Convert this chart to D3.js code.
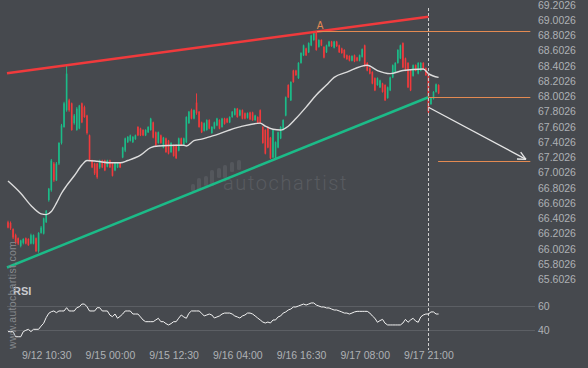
<!DOCTYPE html>
<html>
<head>
<meta charset="utf-8">
<script src="https://cdn.jsdelivr.net/npm/d3@7"></script>
<style>
  html, body { margin: 0; padding: 0; background: #46494e; }
  svg { display: block; }
</style>
</head>
<body>
<div id="chart"></div>
<script>
// candles, one row per 30 min bar: [open, high, low, close]
var candles = [
  [66.35,66.37,66.27,66.28],[66.34,66.36,66.25,66.27],[66.26,66.27,66.13,66.15],[66.18,66.20,66.06,66.08],[66.14,66.15,66.05,66.07],
  [66.04,66.12,66.02,66.11],[66.08,66.14,66.06,66.13],[66.14,66.15,66.06,66.07],[66.13,66.14,66.04,66.05],[66.07,66.20,66.06,66.18],
  [66.07,66.19,66.06,66.18],[66.14,66.15,65.96,65.97],[65.97,66.22,65.95,66.21],[66.21,66.30,66.20,66.28],[66.20,66.41,66.19,66.40],
  [66.35,66.51,66.34,66.50],[66.64,66.80,66.62,66.79],[66.77,67.18,66.75,67.16],[67.12,67.14,66.88,66.90],[66.90,67.14,66.89,67.12],
  [67.12,67.40,67.10,67.39],[67.39,67.64,67.37,67.62],[67.60,67.93,67.59,67.91],[67.82,68.41,67.80,68.30],[67.95,67.97,67.80,67.82],
  [67.91,67.92,67.55,67.56],[67.65,67.77,67.63,67.75],[67.56,67.86,67.55,67.84],[67.58,67.89,67.57,67.88],[67.91,67.92,67.65,67.66],
  [67.86,67.88,67.72,67.73],[67.75,67.76,67.50,67.52],[67.49,67.50,67.15,67.16],[67.16,67.17,67.06,67.07],[67.12,67.13,66.97,66.99],
  [67.12,67.13,66.92,66.94],[67.07,67.17,67.05,67.16],[67.16,67.17,67.06,67.07],[67.16,67.17,67.02,67.03],[67.08,67.17,67.07,67.16],
  [67.16,67.17,67.06,67.07],[67.13,67.14,66.95,66.96],[67.03,67.14,67.02,67.13],[67.07,67.14,67.06,67.13],[67.13,67.14,67.06,67.07],
  [67.20,67.34,67.19,67.33],[67.29,67.46,67.27,67.45],[67.40,67.48,67.39,67.47],[67.42,67.50,67.41,67.49],[67.40,67.48,67.39,67.47],
  [67.44,67.50,67.43,67.49],[67.60,67.61,67.48,67.49],[67.58,67.59,67.48,67.49],[67.56,67.57,67.48,67.49],[67.49,67.57,67.48,67.56],
  [67.53,67.61,67.52,67.60],[67.56,67.72,67.55,67.71],[67.66,67.67,67.45,67.46],[67.53,67.54,67.35,67.36],[67.39,67.54,67.38,67.53],
  [67.49,67.50,67.38,67.39],[67.33,67.47,67.32,67.46],[67.45,67.46,67.26,67.27],[67.42,67.43,67.24,67.25],[67.27,67.40,67.26,67.39],
  [67.36,67.37,67.21,67.22],[67.36,67.37,67.18,67.19],[67.29,67.46,67.28,67.45],[67.45,67.46,67.35,67.36],[67.37,67.46,67.36,67.45],
  [67.40,67.74,67.39,67.73],[67.65,67.81,67.64,67.80],[67.82,67.84,67.70,67.71],[67.71,67.83,67.70,67.82],[67.92,68.04,67.76,67.78],
  [67.80,67.81,67.59,67.60],[67.66,67.67,67.52,67.53],[67.55,67.66,67.54,67.65],[67.56,67.70,67.55,67.69],[67.69,67.70,67.57,67.58],
  [67.52,67.61,67.51,67.60],[67.58,67.67,67.57,67.66],[67.62,67.72,67.61,67.71],[67.69,67.70,67.57,67.58],[67.60,67.72,67.59,67.71],
  [67.71,67.72,67.63,67.64],[67.71,67.72,67.65,67.66],[67.66,67.74,67.65,67.73],[67.73,67.81,67.72,67.80],[67.76,67.85,67.75,67.84],
  [67.84,67.85,67.72,67.73],[67.75,67.83,67.74,67.82],[67.82,67.83,67.70,67.71],[67.78,67.79,67.70,67.71],[67.72,67.79,67.71,67.78],
  [67.79,67.80,67.69,67.70],[67.79,67.80,67.68,67.69],[67.69,67.76,67.68,67.75],[67.73,67.74,67.64,67.65],[67.82,67.83,67.64,67.65],
  [67.60,67.61,67.38,67.39],[67.56,67.57,67.24,67.25],[67.60,67.61,67.32,67.33],[67.46,67.47,67.18,67.19],[67.20,67.57,67.19,67.56],
  [67.19,67.41,67.18,67.40],[67.33,67.54,67.32,67.53],[67.45,67.61,67.44,67.60],[67.56,67.70,67.55,67.69],[67.75,68.00,67.74,67.99],
  [68.15,68.16,67.98,67.99],[67.95,68.20,67.94,68.19],[68.34,68.35,68.18,68.19],[68.34,68.35,68.27,68.28],[68.24,68.45,68.23,68.44],
  [68.44,68.58,68.43,68.57],[68.54,68.68,68.53,68.67],[68.63,68.64,68.53,68.54],[68.58,68.71,68.57,68.70],[68.67,68.81,68.66,68.80],
  [68.74,68.86,68.73,68.84],[68.84,68.86,68.60,68.61],[68.65,68.75,68.64,68.74],[68.74,68.75,68.66,68.67],[68.65,68.66,68.50,68.51],
  [68.58,68.68,68.57,68.67],[68.66,68.73,68.65,68.72],[68.72,68.73,68.65,68.66],[68.64,68.73,68.63,68.72],[68.72,68.73,68.65,68.66],
  [68.67,68.68,68.57,68.58],[68.63,68.64,68.56,68.57],[68.61,68.62,68.50,68.51],[68.54,68.55,68.48,68.49],[68.53,68.54,68.46,68.47],
  [68.47,68.54,68.46,68.53],[68.54,68.55,68.45,68.46],[68.51,68.52,68.46,68.47],[68.47,68.55,68.46,68.54],[68.52,68.63,68.51,68.62],
  [68.67,68.68,68.39,68.40],[68.44,68.45,68.33,68.34],[68.37,68.38,68.29,68.30],[68.32,68.33,68.16,68.17],[68.24,68.25,68.07,68.08],
  [68.15,68.25,68.14,68.24],[68.12,68.22,68.11,68.21],[68.17,68.18,68.05,68.06],[68.15,68.16,67.94,67.95],[67.98,68.13,67.97,68.12],
  [68.08,68.26,68.07,68.25],[68.25,68.42,68.24,68.41],[68.32,68.45,68.31,68.44],[68.44,68.62,68.43,68.61],[68.50,68.68,68.49,68.67],
  [68.70,68.71,68.37,68.38],[68.50,68.51,68.33,68.34],[68.44,68.45,68.11,68.12],[68.34,68.35,68.07,68.08],[68.27,68.42,68.26,68.41],
  [68.41,68.42,68.33,68.34],[68.30,68.45,68.29,68.44],[68.34,68.45,68.33,68.44],[68.44,68.45,68.36,68.37],[68.37,68.38,68.27,68.28],
  [68.30,68.31,67.78,67.80],[67.90,67.99,67.89,67.98],[67.97,68.07,67.96,68.06],[68.06,68.17,68.05,68.16],[68.15,68.16,68.03,68.04]
];

// RSI, one value per bar
var rsi = [
  38.9,38.9,38.9,34.7,34.7,34.7,38.9,40.0,40.8,38.9,
  40.8,40.8,40.8,43.5,45.8,50.5,54.0,55.3,55.9,54.5,
  55.9,55.9,55.9,58.6,55.9,55.9,55.9,58.6,59.4,61.6,
  61.6,59.4,55.9,55.9,55.9,58.6,58.6,55.9,55.9,55.9,
  52.5,51.2,53.4,49.9,51.5,53.4,55.9,55.9,55.9,53.4,
  53.4,53.4,51.0,48.5,47.1,47.1,47.1,47.1,48.5,49.9,
  47.1,47.1,45.5,44.4,45.5,47.1,47.1,50.0,52.6,51.0,
  49.9,54.0,55.9,55.9,55.9,55.9,54.0,51.8,52.6,53.4,
  52.6,50.1,51.0,51.8,53.4,54.2,54.2,54.2,53.4,51.8,
  51.0,50.1,51.8,52.6,54.2,54.2,53.4,51.8,50.1,48.5,
  46.8,46.0,46.8,46.0,48.5,48.5,51.0,51.8,54.2,55.1,
  56.7,57.5,59.2,59.2,60.0,60.8,61.6,60.8,61.6,62.5,
  62.5,60.8,60.0,59.2,59.2,58.4,58.4,57.5,56.7,56.7,
  55.9,55.1,54.2,54.2,53.4,54.2,55.1,55.6,55.6,55.6,
  55.6,55.6,54.2,51.8,49.9,46.6,48.0,49.0,45.8,44.4,
  44.4,44.4,44.4,44.4,44.4,46.0,49.0,46.6,48.5,49.9,
  47.6,46.6,51.0,52.6,53.4,53.4,55.1,55.1,53.4,53.4
];

// moving average read at these bars
var maIdx = [0,5,9,13,15,17,19,21,23,26,29,31,35,40,44,47,52,56,59,66,69,70,73,76,80,82,87,92,99,101,104,107,110,113,117,121,125,128,133,141,145,150,155,163,165,169];
var maVal = [66.89,66.73,66.57,66.46,66.45,66.49,66.60,66.73,66.83,66.96,67.10,67.16,67.15,67.13,67.13,67.16,67.23,67.33,67.35,67.36,67.36,67.35,67.42,67.44,67.48,67.50,67.56,67.61,67.65,67.61,67.57,67.56,67.61,67.71,67.86,68.02,68.15,68.25,68.32,68.41,68.34,68.30,68.34,68.36,68.30,68.25];

var timeIdx = [15, 40, 65, 90, 115, 140, 165];
var timeLabels = ['9/12 10:30', '9/15 00:00', '9/15 12:30', '9/16 04:00', '9/16 16:30', '9/17 08:00', '9/17 21:00'];
var priceTicks = [65.6026,65.8026,66.0026,66.2026,66.4026,66.6026,66.8026,67.0026,67.2026,67.4026,
                  67.6026,67.8026,68.0026,68.2026,68.4026,68.6026,68.8026,69.0026,69.2026];
var rsiTicks = [40, 60];

// pattern: channel lines, levels, forecast (bar index, price)
var channelTop = [[-0.4, 68.305], [165, 69.047]];
var channelBottom = [[-0.4, 65.756], [165, 67.99]];
var levelPrice = [68.853, 67.99, 67.149];
var levelFrom = [121.3, 165, 168.8];
var levelTo = 205;
var forecast = [[165, 67.858], [203.3, 67.175]];
var lastBar = 165;

var width = 588, height = 368;
var red = '#f03a3c', green = '#1cbb88', orange = '#e38a52';
var font = '"Liberation Sans", Arial, sans-serif';

var svg = d3.select('#chart').append('svg')
    .attr('width', width)
    .attr('height', height);

svg.append('rect').attr('width', width).attr('height', height).attr('fill', '#46494e');

var x = d3.scaleLinear().domain([0, candles.length - 1]).range([8, 438.6]);
var y = d3.scaleLinear().domain([65.6026, 69.2026]).range([279.2, 4.8]);
var yr = d3.scaleLinear().domain([40, 60]).range([330.3, 306]);

// watermark logo
var logo = svg.append('g').attr('fill', '#54575c');
[[191,184,191],[197,178,190],[204,176,186],[210,170,186],[217,168,178],[223,165,178],[230,162,172],[237,160,170]]
  .forEach(function(b) {
    logo.append('rect').attr('x', b[0]).attr('y', b[1]).attr('width', 4).attr('height', b[2] - b[1]).attr('rx', 1.5);
  });
logo.append('text').attr('x', 223).attr('y', 190)
    .style('font', '300 20px Roboto, sans-serif').style('letter-spacing', '1.6px')
    .attr('fill', '#585b60').text('autochartist');

// RSI grid
svg.append('g').selectAll('line').data(rsiTicks).enter().append('line')
    .attr('x1', 7).attr('x2', 535)
    .attr('y1', function(d) { return Math.round(yr(d)) + 0.5; })
    .attr('y2', function(d) { return Math.round(yr(d)) + 0.5; })
    .attr('stroke', '#5c5f64').attr('stroke-width', 1);

// candles
var bars = svg.append('g');
candles.forEach(function(c, i) {
  var col = c[3] >= c[0] ? green : red;
  var cx = x(i);
  bars.append('line')
      .attr('x1', cx).attr('x2', cx)
      .attr('y1', y(c[1])).attr('y2', y(c[2]))
      .attr('stroke', col).attr('stroke-width', 1);
  var top = y(Math.max(c[0], c[3])), bot = y(Math.min(c[0], c[3]));
  bars.append('rect')
      .attr('x', cx - 0.8).attr('width', 1.6)
      .attr('y', top).attr('height', Math.max(1, bot - top))
      .attr('fill', col);
});

// moving average
var maLine = d3.line()
    .x(function(d) { return x(d[0]); })
    .y(function(d) { return y(d[1]); })
    .curve(d3.curveMonotoneX);
svg.append('path')
    .datum(maIdx.map(function(d, i) { return [d, maVal[i]]; }))
    .attr('d', maLine)
    .attr('fill', 'none').attr('stroke', '#dcdcdc').attr('stroke-width', 1.4);

// channel
var pLine = d3.line().x(function(d) { return x(d[0]); }).y(function(d) { return y(d[1]); });
svg.append('path').datum(channelTop).attr('d', pLine)
    .attr('stroke', red).attr('stroke-width', 2.5).attr('fill', 'none');
svg.append('path').datum(channelBottom).attr('d', pLine)
    .attr('stroke', green).attr('stroke-width', 2.5).attr('fill', 'none');

// levels
levelPrice.forEach(function(p, i) {
  svg.append('line')
      .attr('x1', x(levelFrom[i])).attr('x2', x(levelTo))
      .attr('y1', Math.round(y(p)) + 0.5).attr('y2', Math.round(y(p)) + 0.5)
      .attr('stroke', orange).attr('stroke-width', 1);
});
svg.append('text')
    .attr('x', x(levelFrom[0]) + 3).attr('y', y(levelPrice[0]) - 2.5)
    .attr('text-anchor', 'middle')
    .style('font', '10px ' + font).attr('fill', orange).text('A');

// forecast arrow
var f0 = [x(forecast[0][0]), y(forecast[0][1])];
var f1 = [x(forecast[1][0]), y(forecast[1][1])];
svg.append('path').datum(forecast).attr('d', pLine)
    .attr('stroke', '#e6e6e6').attr('stroke-width', 1.3).attr('fill', 'none');
var ang = Math.atan2(f1[1] - f0[1], f1[0] - f0[0]);
[-0.45, 0.45].forEach(function(da) {
  svg.append('line')
      .attr('x1', f1[0]).attr('y1', f1[1])
      .attr('x2', f1[0] - 9 * Math.cos(ang + da)).attr('y2', f1[1] - 9 * Math.sin(ang + da))
      .attr('stroke', '#e6e6e6').attr('stroke-width', 1.3);
});

// current bar marker
svg.append('line')
    .attr('x1', Math.round(x(lastBar)) + 0.5).attr('x2', Math.round(x(lastBar)) + 0.5)
    .attr('y1', 8).attr('y2', 350)
    .attr('stroke', '#cfcfcf').attr('stroke-width', 1).attr('stroke-dasharray', '3,2');

// RSI line
var rsiLine = d3.line()
    .x(function(d, i) { return x(i); })
    .y(function(d) { return yr(d); });
svg.append('path').datum(rsi).attr('d', rsiLine)
    .attr('fill', 'none').attr('stroke', '#f2f2f2').attr('stroke-width', 1);

// axes
function styleAxis(g) {
  g.select('.domain').remove();
  g.selectAll('text').attr('fill', '#aeb1b5').style('font', '10.5px ' + font);
}
svg.append('g').attr('transform', 'translate(535,0)')
    .call(d3.axisRight(y).tickValues(priceTicks).tickSize(0).tickPadding(3)
      .tickFormat(function(d) { return d.toFixed(4); }))
    .call(styleAxis);
svg.append('g').attr('transform', 'translate(535,0)')
    .call(d3.axisRight(yr).tickValues(rsiTicks).tickSize(0).tickPadding(3))
    .call(styleAxis);
svg.append('g').attr('transform', 'translate(0,349)')
    .call(d3.axisBottom(x).tickValues(timeIdx).tickSize(0).tickPadding(3)
      .tickFormat(function(d, i) { return timeLabels[i]; }))
    .call(styleAxis);

// labels
svg.append('text').attr('x', 13).attr('y', 295)
    .style('font', 'bold 11px ' + font).attr('fill', '#c9cbce').text('RSI');
svg.append('text')
    .attr('transform', 'translate(16,349) rotate(-90)')
    .style('font', '10.5px ' + font).style('letter-spacing', '0.3px')
    .attr('fill', '#85888c').text('www.autochartist.com');
</script>
</body>
</html>
